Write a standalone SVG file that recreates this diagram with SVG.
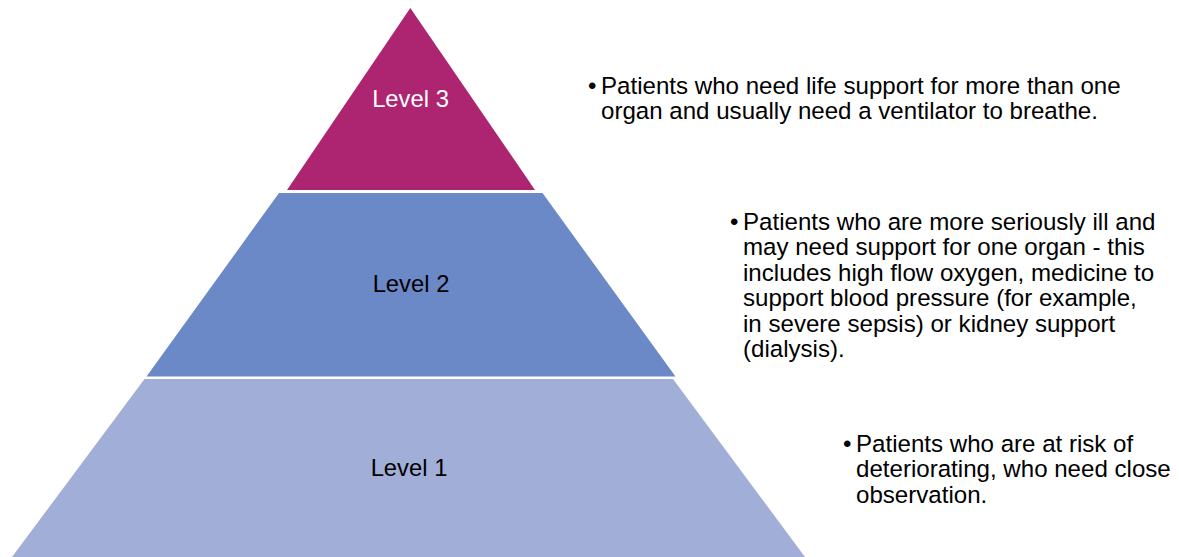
<svg xmlns="http://www.w3.org/2000/svg" width="1179" height="557" viewBox="0 0 1179 557">
  <style>
    .lbl { font-family: "Liberation Sans", Arial, sans-serif; font-size: 23.8px; text-anchor: middle; }
    .note { font-family: "Liberation Sans", Arial, sans-serif; font-size: 24.1px; fill: #000000; }
    .l3 { fill: #AD2571; }
    .l2 { fill: #6B88C7; }
    .l1 { fill: #A0AED8; }
  </style>
  <rect width="1179" height="557" fill="#FFFFFF"/>

  <!-- Pyramid tiers, top to bottom -->
  <g id="level-3">
    <polygon class="l3" points="410.3,8 535,190 287,190"/>
    <text class="lbl" x="410.5" y="107" fill="#FFFFFF">Level 3</text>
  </g>
  <g id="level-2">
    <polygon class="l2" points="279,193 542.5,193 675.5,376.5 146.5,376.5"/>
    <text class="lbl" x="411" y="292" fill="#000000">Level 2</text>
  </g>
  <g id="level-1">
    <polygon class="l1" points="144.5,379 673,379 805,557 12,557"/>
    <text class="lbl" x="409" y="476" fill="#000000">Level 1</text>
  </g>

  <!-- Descriptions beside each tier -->
  <g id="desc-3" class="note">
    <text x="588" y="93.5">•</text>
    <text x="601" y="93.5">Patients who need life support for more than one</text>
    <text x="601" y="119">organ and usually need a ventilator to breathe.</text>
  </g>
  <g id="desc-2" class="note">
    <text x="730" y="229.5">•</text>
    <text x="743" y="229.5">Patients who are more seriously ill and</text>
    <text x="743" y="255">may need support for one organ - this</text>
    <text x="743" y="280.5">includes high flow oxygen, medicine to</text>
    <text x="743" y="306">support blood pressure (for example,</text>
    <text x="743" y="331.5">in severe sepsis) or kidney support</text>
    <text x="743" y="357">(dialysis).</text>
  </g>
  <g id="desc-1" class="note">
    <text x="843" y="451.5">•</text>
    <text x="856" y="451.5">Patients who are at risk of</text>
    <text x="856" y="477">deteriorating, who need close</text>
    <text x="856" y="502.5">observation.</text>
  </g>
</svg>
